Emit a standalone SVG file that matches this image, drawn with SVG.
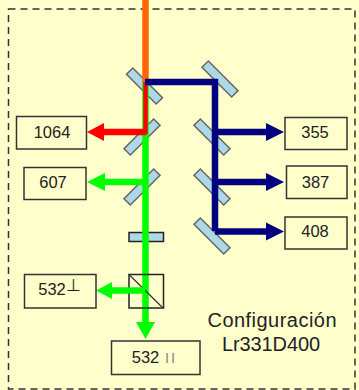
<svg xmlns="http://www.w3.org/2000/svg" width="359" height="390" viewBox="0 0 359 390">
<style>
.box{fill:#ffffcc;stroke:#333;stroke-width:1.5}
.mirror{fill:#add8e6;stroke:#666;stroke-width:1.5}
.opt{fill:#ffffcc;stroke:#222;stroke-width:1.5}
.t{font-family:"Liberation Sans",Arial,sans-serif;font-size:16.5px;fill:#222;text-anchor:middle}
.cap{font-family:"Liberation Sans",Arial,sans-serif;font-size:20px;fill:#222;text-anchor:middle}
.navy{fill:none;stroke:#000080;stroke-width:6.5}
.green{fill:none;stroke:#00ff00;stroke-width:6.5}
.red{fill:none;stroke:#ff0000;stroke-width:6.5}
</style>
<rect width="359" height="390" fill="#ffffcc"/>
<rect x="8.5" y="9" width="346.5" height="380" fill="none" stroke="#333" stroke-width="1.5" stroke-dasharray="7 5"/>
<g id="mirrors">
<rect class="mirror" x="123.500" y="81.500" width="42" height="9" transform="rotate(45 144.500 86)"/>
<rect class="mirror" x="121" y="132.500" width="42" height="9" transform="rotate(-45 142 137)"/>
<rect class="mirror" x="121" y="182.500" width="42" height="9" transform="rotate(-45 142 187)"/>
<rect class="mirror" x="199" y="74.500" width="42" height="9" transform="rotate(45 220 79)"/>
<rect class="mirror" x="191" y="132.500" width="42" height="9" transform="rotate(45 212 137)"/>
<rect class="mirror" x="191" y="182.500" width="42" height="9" transform="rotate(45 212 187)"/>
<rect class="mirror" x="191" y="231.500" width="42" height="9" transform="rotate(45 212 236)"/>
<rect class="mirror" x="129" y="232.500" width="34.500" height="9" style="stroke:#222"/>
</g>
<g id="connectors">
<path class="green" d="M145.500 82V324"/>
<polygon points="136,322 155,322 145.500,339" fill="#00ff00"/>
<path class="green" d="M145 182H103"/>
<polygon points="105,173 105,191 87,182" fill="#00ff00"/>
<path d="M145.500 82V132H102" fill="none" stroke="#ff0000" stroke-width="4.500"/>
<path class="red" d="M146 132H102"/>
<polygon points="104,123 104,141 87,132" fill="#ff0000"/>
<path d="M145.500 0V82" fill="none" stroke="#ff6600" stroke-width="6.500"/>
<path class="navy" d="M145 82H215V231"/>
<path class="navy" d="M215 132H268"/>
<polygon points="266,123 266,141 284,132" fill="#000080"/>
<path class="navy" d="M215 182H268"/>
<polygon points="266,173 266,191 284,182" fill="#000080"/>
<path class="navy" d="M215 231.500H268"/>
<polygon points="266,222.500 266,240.500 284,231.500" fill="#000080"/>
</g>
<g id="cube">
<rect class="opt" x="129" y="274.500" width="34.500" height="33.500" style="fill:none"/>
<path d="M130 275.500L163 308" stroke="#333" stroke-width="1.200" fill="none"/>
</g>
<g id="beam-532-perp">
<path class="green" d="M145 290.500H110"/>
<polygon points="112,282 112,299 96,290.500" fill="#00ff00"/>
</g>
<g id="n1064"><rect class="box" x="16.500" y="116.500" width="70" height="32.500"/><text class="t" x="52" y="138">1064</text></g>
<g id="n607"><rect class="box" x="24" y="167.500" width="62" height="32"/><text class="t" x="53" y="187.500">607</text></g>
<g id="n355"><rect class="box" x="285" y="117.500" width="62" height="32"/><text class="t" x="315" y="138">355</text></g>
<g id="n387"><rect class="box" x="286.500" y="166" width="60.500" height="32.500"/><text class="t" x="315.500" y="187.500">387</text></g>
<g id="n408"><rect class="box" x="285" y="217" width="62" height="32"/><text class="t" x="315" y="237">408</text></g>
<g id="n532perp"><rect class="box" x="24.500" y="274.500" width="71.500" height="33.500"/><text class="t" x="52" y="295">532</text><text class="t" x="73" y="291">⊥</text></g>
<g id="n532par"><rect class="box" x="111.500" y="341" width="88.500" height="33.500"/><text class="t" x="145.500" y="363">532</text><text x="171" y="363" font-family="'Liberation Sans',Arial,sans-serif" font-size="14.500" fill="#8a8a80" text-anchor="middle" letter-spacing="2">II</text></g>
<g id="caption"><text class="cap" x="272" y="327" textLength="129" lengthAdjust="spacing">Configuración</text><text class="cap" x="271" y="351" textLength="98" lengthAdjust="spacing">Lr331D400</text></g>
</svg>
